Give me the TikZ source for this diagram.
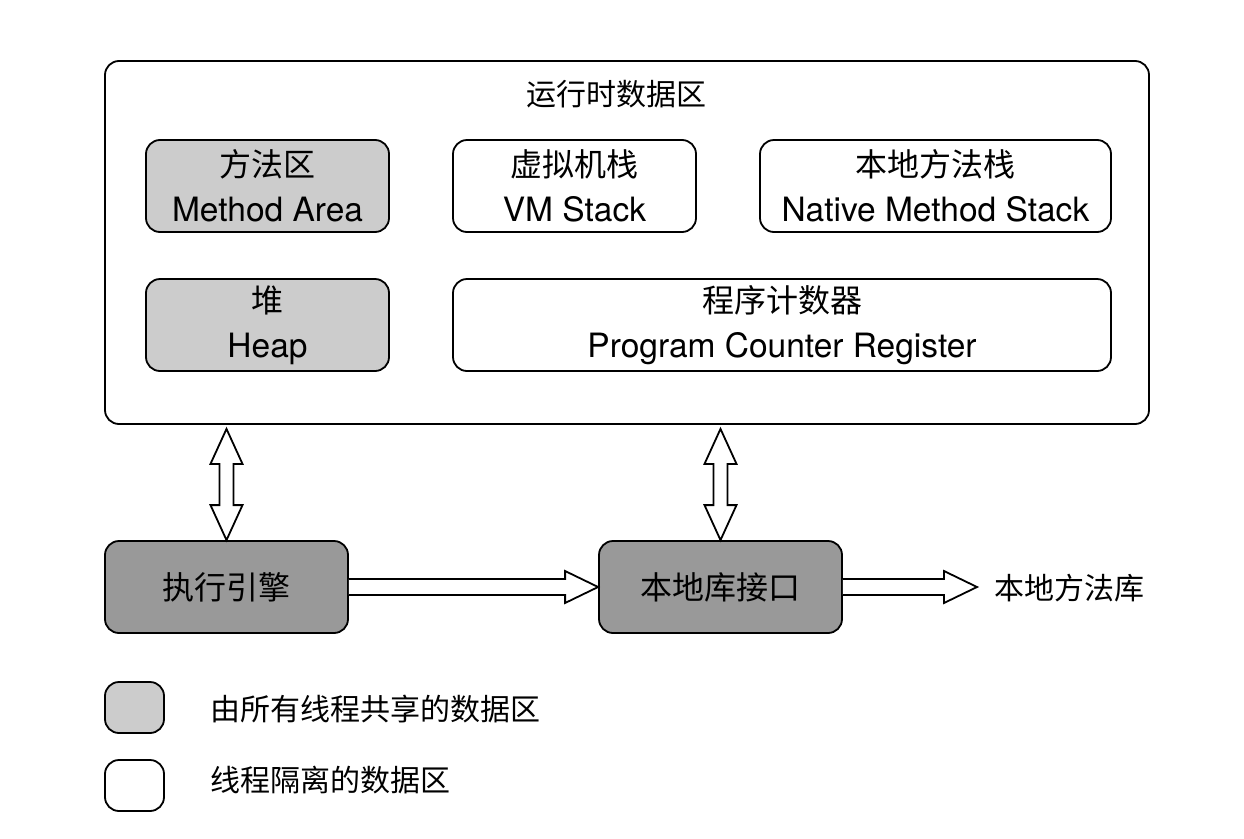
\documentclass[tikz,border=0pt]{standalone}
\usepackage{fontspec}
\setmainfont{TeX Gyre Heros}
\newfontfamily\cjk{Noto Sans CJK SC}
\usetikzlibrary{positioning,calc}

\definecolor{shared}{HTML}{CCCCCC}
\definecolor{engine}{HTML}{999999}

\tikzset{
    area/.style={draw,line width=1.8pt,rounded corners=14pt,align=center,
        minimum height=92pt,inner sep=0pt,
        font=\fontsize{33.5}{45}\selectfont},
    hollow/.style={draw,line width=1.8pt,fill=white,line join=miter},
    zhlabel/.style={font=\cjk\fontsize{30}{38}\selectfont}
}
\newcommand{\zh}[1]{{\cjk\fontsize{32}{45}\selectfont #1}}

\begin{document}
\begin{tikzpicture}[x=1pt,y=-1pt]
            \useasboundingbox (0,0) rectangle (1244,838);
            % Runtime data area
            \node[area,minimum width=1044pt,minimum height=363pt] (rt) at (627,242.5) {};
            \node[zhlabel] (title) at (616,94) {运行时数据区};
            \node[area,fill=shared,minimum width=243pt] (method) at (267.5,186) {\zh{方法区}\\Method Area};
            \node[area,minimum width=243pt] (vm) at (574.5,186) {\zh{虚拟机栈}\\VM Stack};
            \node[area,minimum width=351pt] (native) at (935.5,186) {\zh{本地方法栈}\\Native Method Stack};
            \node[area,fill=shared,minimum width=243pt] (heap) at (267.5,325) {\zh{堆}\\Heap};
            \node[area,minimum width=658pt] (pc) at (782,325) {\zh{程序计数器}\\Program Counter Register};
            % Engine and native interface
            \node[area,fill=engine,minimum width=243pt] (exec) at (226.5,587) {\zh{执行引擎}};
            \node[area,fill=engine,minimum width=243pt] (lib) at (720.5,587) {\zh{本地库接口}};
            \coordinate (libend) at (977,587);
            \node[zhlabel,anchor=west] (nlib) at (991,588) {本地方法库};
            % Double arrows up to the data area
            \coordinate (up1) at ($(exec.north |- rt.south)+(0,4)$);
            \coordinate (up2) at ($(lib.north |- rt.south)+(0,4)$);
            \draw[hollow] (up1) -- ($(up1)+(16,35)$) -- ($(up1)+(7,35)$) -- ($(exec.north)+(7,-35)$)
                -- ($(exec.north)+(16,-35)$) -- (exec.north) -- ($(exec.north)+(-16,-35)$)
                -- ($(exec.north)+(-7,-35)$) -- ($(up1)+(-7,35)$) -- ($(up1)+(-16,35)$) -- cycle;
            \draw[hollow] (up2) -- ($(up2)+(16,35)$) -- ($(up2)+(7,35)$) -- ($(lib.north)+(7,-35)$)
                -- ($(lib.north)+(16,-35)$) -- (lib.north) -- ($(lib.north)+(-16,-35)$)
                -- ($(lib.north)+(-7,-35)$) -- ($(up2)+(-7,35)$) -- ($(up2)+(-16,35)$) -- cycle;
            % Horizontal arrows
            \draw[hollow] ($(exec.east)+(0,-8)$) -- ($(lib.west)+(-33,-8)$) -- ($(lib.west)+(-33,-16)$)
                -- (lib.west) -- ($(lib.west)+(-33,16)$) -- ($(lib.west)+(-33,8)$) -- ($(exec.east)+(0,8)$);
            \draw[hollow] ($(lib.east)+(0,-8)$) -- ($(libend)+(-33,-8)$) -- ($(libend)+(-33,-16)$)
                -- (libend) -- ($(libend)+(-33,16)$) -- ($(libend)+(-33,8)$) -- ($(lib.east)+(0,8)$);
            % Legend
            \node[area,fill=shared,minimum width=59pt,minimum height=51pt] (keyshared) at (134.5,707.5) {};
            \node[zhlabel,anchor=west] (txtshared) at (207,709) {由所有线程共享的数据区};
            \node[area,minimum width=59pt,minimum height=51pt] (keyprivate) at (134.5,785.5) {};
            \node[zhlabel,anchor=west] (txtprivate) at (207,780) {线程隔离的数据区};
        \end{tikzpicture}
\end{document}
